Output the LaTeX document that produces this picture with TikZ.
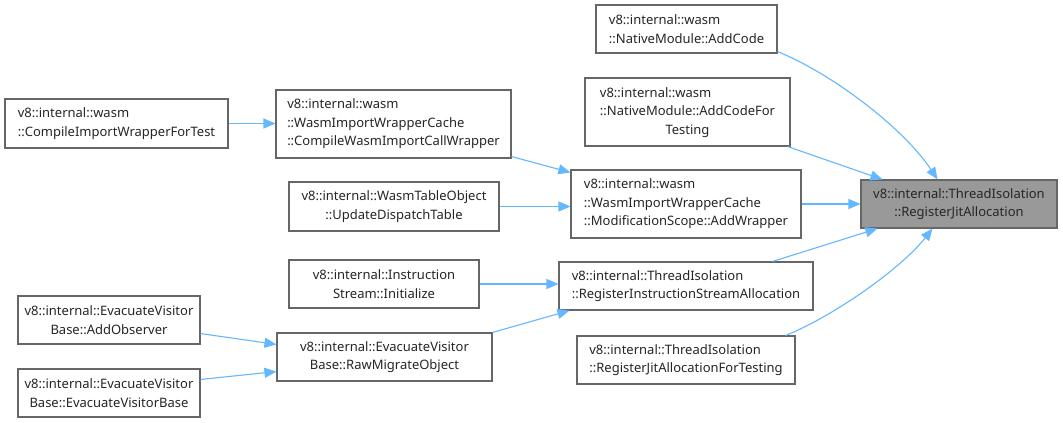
\documentclass[tikz,border=0pt]{standalone}
\usepackage{fontspec}
\setmainfont{Noto Sans}
\usetikzlibrary{arrows.meta,calc}
\definecolor{edgeblue}{HTML}{63B8FF}
\definecolor{boxborder}{HTML}{666666}
\definecolor{mainfill}{HTML}{999999}
\begin{document}
\begin{tikzpicture}[x=1pt,y=-1pt,
  fn/.style={draw=boxborder,line width=1.1pt,fill=white,inner sep=0pt,
    font=\fontsize{13}{18.5}\selectfont,text=black!85},
  fnl/.style={fn,align=left},
  fnc/.style={fn,align=center},
  mainbox/.style={fn,align=center,fill=mainfill},
  edge/.style={draw=edgeblue,line width=1.1pt,-{Triangle[length=12pt,width=10pt]}}]
\useasboundingbox[fill=white] (0,0) rectangle (1063,423);

\node[fnl,minimum width=181,minimum height=48] (addcode) at (686.5,29) {v8::internal::wasm\\::NativeModule::AddCode};
\node[fn,minimum width=205,minimum height=68] (addcodetest) at (687.5,112) {\begin{tabular}{@{}l@{}}v8::internal::wasm\\::NativeModule::AddCodeFor\\\multicolumn{1}{@{}c@{}}{Testing}\end{tabular}};
\node[mainbox,minimum width=196,minimum height=48] (main) at (959,204) {v8::internal::ThreadIsolation\\::RegisterJitAllocation};
\node[fnl,minimum width=223,minimum height=49] (cwtest) at (116.5,123.5) {v8::internal::wasm\\::CompileImportWrapperForTest};
\node[fnl,minimum width=235,minimum height=68] (cwasm) at (393.5,124) {v8::internal::wasm\\::WasmImportWrapperCache\\::CompileWasmImportCallWrapper};
\node[fnc,minimum width=210,minimum height=49] (update) at (394,206.5) {v8::internal::WasmTableObject\\::UpdateDispatchTable};
\node[fnl,minimum width=230,minimum height=68] (addwrapper) at (686,204) {v8::internal::wasm\\::WasmImportWrapperCache\\::ModificationScope::AddWrapper};
\node[fnc,minimum width=190,minimum height=48] (init) at (384,284) {v8::internal::Instruction\\Stream::Initialize};
\node[fnl,minimum width=254,minimum height=48] (reginstr) at (686,286) {v8::internal::ThreadIsolation\\::RegisterInstructionStreamAllocation};
\node[fnl,minimum width=218,minimum height=48] (regjittest) at (686,360) {v8::internal::ThreadIsolation\\::RegisterJitAllocationForTesting};
\node[fnc,minimum width=182,minimum height=48] (addobs) at (109,320) {v8::internal::EvacuateVisitor\\Base::AddObserver};
\node[fnc,minimum width=182,minimum height=48] (evac) at (109,393) {v8::internal::EvacuateVisitor\\Base::EvacuateVisitorBase};
\node[fnc,minimum width=215,minimum height=48] (raw) at (384.5,357) {v8::internal::EvacuateVisitor\\Base::RawMigrateObject};

\draw[edge] ([yshift=2pt]addcode.south east) .. controls (835,75) and (905,130) .. ([xshift=77pt]main.north west);
\draw[edge] ([xshift=-3pt]addcodetest.south east) -- ([xshift=22pt]main.north west);
\draw[edge] (addwrapper.east) -- (main.west);
\draw[edge] ([xshift=-41pt]reginstr.north east) -- ([xshift=17pt]main.south west);
\draw[edge] ([xshift=-10pt]regjittest.north east) .. controls (830,318) and (900,270) .. ([xshift=72pt]main.south west);
\draw[edge] (cwtest.east) -- (cwtest.east -| cwasm.west);
\draw[edge] ([yshift=2pt]cwasm.south east) -- ([yshift=-3pt]addwrapper.north west);
\draw[edge] (update.east) -- (update.east -| addwrapper.west);
\draw[edge] (init.east) -- (init.east -| reginstr.west);
\draw[edge] (raw.north east) -- ([xshift=11pt]reginstr.south west);
\draw[edge] ([yshift=11pt]addobs.south east) -- ([yshift=-12pt]raw.north west);
\draw[edge] ([yshift=-11pt]evac.north east) -- ([yshift=10pt]raw.south west);
\end{tikzpicture}
\end{document}
